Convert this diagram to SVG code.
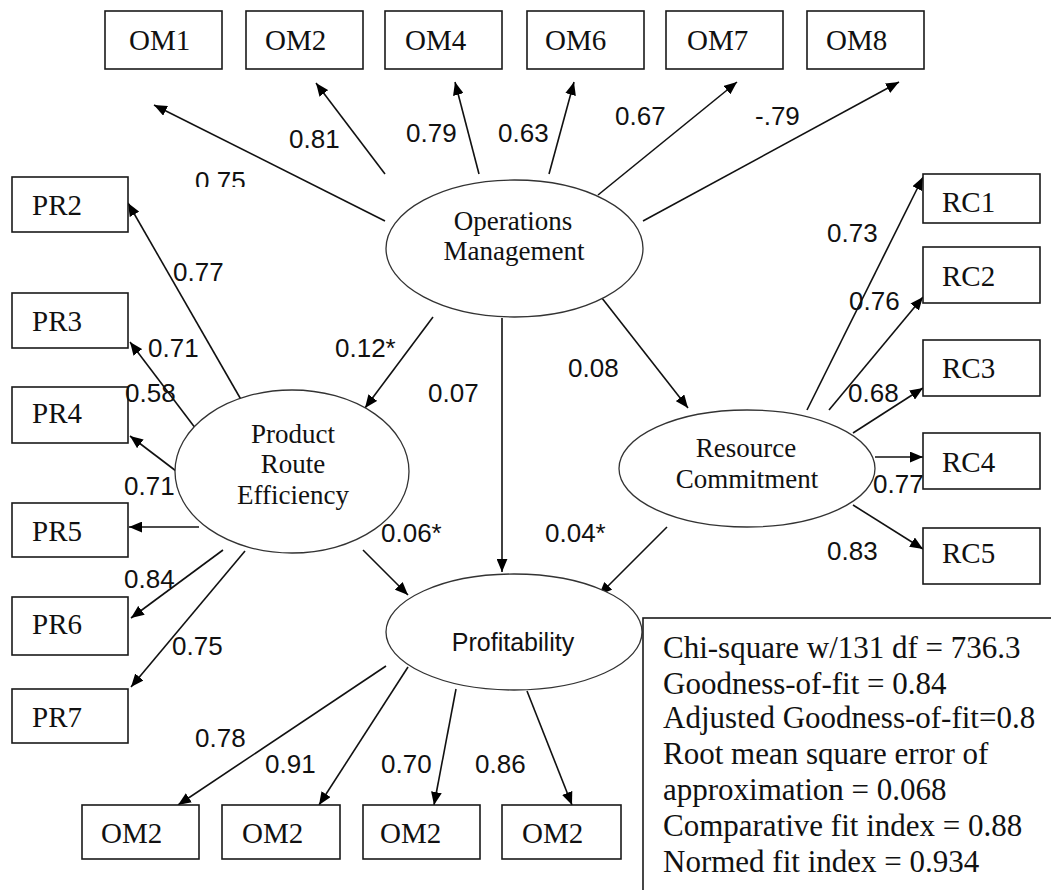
<svg xmlns="http://www.w3.org/2000/svg" width="1051" height="890" viewBox="0 0 1051 890">
<defs>
<style>
.box{fill:#fff;stroke:#1a1a1a;stroke-width:1.6}
.ell{fill:#fff;stroke:#333;stroke-width:1.3}
.bt{font-family:"Liberation Serif","Times New Roman",serif;font-size:29px;fill:#111}
.et{font-family:"Liberation Serif","Times New Roman",serif;font-size:27px;fill:#111;text-anchor:middle}
.pt{font-family:"Liberation Sans",Arial,sans-serif;font-size:25px;fill:#111;text-anchor:middle}
.lb{font-family:"Liberation Sans",Arial,sans-serif;font-size:26px;fill:#111}
.st{font-family:"Liberation Serif","Times New Roman",serif;font-size:31px;fill:#111}
.cn{stroke:#111;stroke-width:1.6;fill:none;marker-end:url(#ah)}
</style>
<marker id="ah" viewBox="0 0 12 10" refX="12" refY="5" markerWidth="13" markerHeight="11" orient="auto" markerUnits="userSpaceOnUse"><path d="M0,0 L12,5 L0,10 z" fill="#000"/></marker>
<clipPath id="clip75"><rect x="0" y="0" width="1051" height="187"/></clipPath>
</defs>
<rect width="1051" height="890" fill="#fff"/>

<g id="connectors">
<line class="cn" x1="385" y1="221" x2="154" y2="105"/>
<line class="cn" x1="385" y1="174" x2="316" y2="83"/>
<line class="cn" x1="479" y1="174" x2="455" y2="82"/>
<line class="cn" x1="549" y1="174" x2="574" y2="82"/>
<line class="cn" x1="598" y1="195" x2="737" y2="82"/>
<line class="cn" x1="643" y1="221" x2="899" y2="82"/>
<line class="cn" x1="433" y1="317" x2="365" y2="408"/>
<line class="cn" x1="502" y1="318" x2="502" y2="572"/>
<line class="cn" x1="598" y1="293" x2="688" y2="408"/>
<line class="cn" x1="363" y1="550" x2="408" y2="595"/>
<line class="cn" x1="667" y1="527" x2="599" y2="595"/>
<line class="cn" x1="247" y1="410" x2="128" y2="203"/>
<line class="cn" x1="199" y1="433" x2="130" y2="342"/>
<line class="cn" x1="180" y1="474" x2="130" y2="436"/>
<line class="cn" x1="199" y1="527" x2="129" y2="527"/>
<line class="cn" x1="223" y1="550" x2="131" y2="618"/>
<line class="cn" x1="245" y1="551" x2="131" y2="687"/>
<line class="cn" x1="807" y1="410" x2="923" y2="177"/>
<line class="cn" x1="829" y1="410" x2="923" y2="297"/>
<line class="cn" x1="853" y1="433" x2="923" y2="388"/>
<line class="cn" x1="875" y1="457" x2="923" y2="457"/>
<line class="cn" x1="853" y1="505" x2="923" y2="549"/>
<line class="cn" x1="386" y1="666" x2="178" y2="805"/>
<line class="cn" x1="408" y1="667" x2="319" y2="805"/>
<line class="cn" x1="456" y1="689" x2="434" y2="805"/>
<line class="cn" x1="527" y1="691" x2="572" y2="805"/>
</g>

<g id="om1"><rect class="box" x="105" y="11" width="117" height="58"/><text class="bt" x="129" y="50">OM1</text></g>
<g id="om2"><rect class="box" x="246" y="11" width="117" height="58"/><text class="bt" x="265" y="50">OM2</text></g>
<g id="om4"><rect class="box" x="385" y="11" width="117" height="58"/><text class="bt" x="405" y="50">OM4</text></g>
<g id="om6"><rect class="box" x="527" y="11" width="117" height="58"/><text class="bt" x="545" y="50">OM6</text></g>
<g id="om7"><rect class="box" x="666" y="11" width="117" height="58"/><text class="bt" x="687" y="50">OM7</text></g>
<g id="om8"><rect class="box" x="807" y="11" width="117" height="58"/><text class="bt" x="826" y="50">OM8</text></g>

<g id="pr2"><rect class="box" x="12" y="177" width="116" height="55"/><text class="bt" x="32" y="215">PR2</text></g>
<g id="pr3"><rect class="box" x="12" y="293" width="116" height="55"/><text class="bt" x="32" y="331">PR3</text></g>
<g id="pr4"><rect class="box" x="12" y="387" width="116" height="56"/><text class="bt" x="32" y="423">PR4</text></g>
<g id="pr5"><rect class="box" x="12" y="503" width="116" height="54"/><text class="bt" x="32" y="541">PR5</text></g>
<g id="pr6"><rect class="box" x="12" y="597" width="116" height="58"/><text class="bt" x="32" y="634">PR6</text></g>
<g id="pr7"><rect class="box" x="12" y="689" width="116" height="54"/><text class="bt" x="32" y="727">PR7</text></g>

<g id="rc1"><rect class="box" x="923" y="174" width="117" height="49"/><text class="bt" x="942" y="212">RC1</text></g>
<g id="rc2"><rect class="box" x="923" y="247" width="117" height="56"/><text class="bt" x="942" y="286">RC2</text></g>
<g id="rc3"><rect class="box" x="923" y="340" width="117" height="56"/><text class="bt" x="942" y="378">RC3</text></g>
<g id="rc4"><rect class="box" x="923" y="433" width="117" height="56"/><text class="bt" x="942" y="472">RC4</text></g>
<g id="rc5"><rect class="box" x="923" y="528" width="117" height="56"/><text class="bt" x="942" y="563">RC5</text></g>

<g id="pf1"><rect class="box" x="82" y="805" width="117" height="54"/><text class="bt" x="101" y="843">OM2</text></g>
<g id="pf2"><rect class="box" x="222" y="805" width="118" height="54"/><text class="bt" x="242" y="843">OM2</text></g>
<g id="pf3"><rect class="box" x="363" y="805" width="117" height="54"/><text class="bt" x="380" y="843">OM2</text></g>
<g id="pf4"><rect class="box" x="502" y="805" width="119" height="54"/><text class="bt" x="522" y="843">OM2</text></g>

<g id="operations-management"><ellipse class="ell" cx="514.5" cy="248.5" rx="128.5" ry="68.5"/><text class="et" x="513" y="230" font-size="26">Operations</text><text class="et" x="514" y="260" font-size="26">Management</text></g>
<g id="product-route-efficiency"><ellipse class="ell" cx="292" cy="471.5" rx="117" ry="81.5"/><text class="et" x="293" y="443">Product</text><text class="et" x="293" y="473">Route</text><text class="et" x="293" y="504">Efficiency</text></g>
<g id="resource-commitment"><ellipse class="ell" cx="747" cy="468.5" rx="128" ry="58.5"/><text class="et" x="746" y="457">Resource</text><text class="et" x="747" y="488">Commitment</text></g>
<g id="profitability"><ellipse class="ell" cx="514" cy="632" rx="128" ry="58"/><text class="pt" x="513" y="651">Profitability</text></g>

<g id="labels" class="lb">
<text x="195" y="190" clip-path="url(#clip75)">0.75</text>
<text x="289" y="148">0.81</text>
<text x="406" y="142">0.79</text>
<text x="498" y="142">0.63</text>
<text x="615" y="125">0.67</text>
<text x="755" y="125">-.79</text>
<text x="173" y="281">0.77</text>
<text x="148" y="357">0.71</text>
<text x="125" y="402">0.58</text>
<text x="124" y="495">0.71</text>
<text x="124" y="588">0.84</text>
<text x="172" y="655">0.75</text>
<text x="335" y="357">0.12*</text>
<text x="428" y="402">0.07</text>
<text x="568" y="377">0.08</text>
<text x="381" y="542">0.06*</text>
<text x="545" y="542">0.04*</text>
<text x="827" y="242">0.73</text>
<text x="849" y="310">0.76</text>
<text x="848" y="402">0.68</text>
<text x="873" y="493">0.77</text>
<text x="827" y="560">0.83</text>
<text x="195" y="747">0.78</text>
<text x="265" y="773">0.91</text>
<text x="381" y="773">0.70</text>
<text x="475" y="773">0.86</text>
</g>

<g id="fit-indices">
<rect x="643" y="618" width="420" height="290" fill="#fff" stroke="#1a1a1a" stroke-width="1.6"/>
<text class="st" x="663" y="658">Chi-square w/131 df = 736.3</text>
<text class="st" x="663" y="694">Goodness-of-fit = 0.84</text>
<text class="st" x="663" y="728">Adjusted Goodness-of-fit=0.8</text>
<text class="st" x="663" y="764">Root mean square error of</text>
<text class="st" x="663" y="800">approximation = 0.068</text>
<text class="st" x="663" y="836">Comparative fit index = 0.88</text>
<text class="st" x="663" y="872">Normed fit index = 0.934</text>
</g>
</svg>
